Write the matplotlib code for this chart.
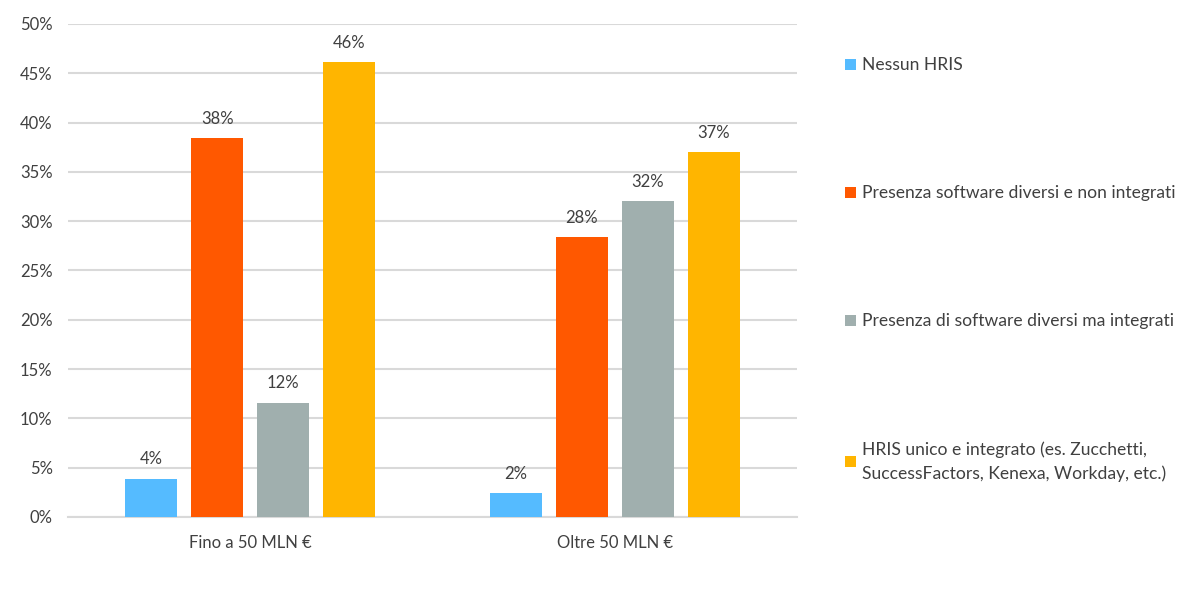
import numpy as np
import matplotlib
matplotlib.use("Agg")
import matplotlib.pyplot as plt
from matplotlib.ticker import FuncFormatter

# data (percent of companies)
groups = ["Fino a 50 MLN €", "Oltre 50 MLN €"]
series = [
    "Nessun HRIS",
    "Presenza software diversi e non integrati",
    "Presenza di software diversi ma integrati",
    "HRIS unico e integrato (es. Zucchetti,\nSuccessFactors, Kenexa, Workday, etc.)",
]
nessun = [3.9, 2.4]
non_integrati = [38.4, 28.4]
integrati = [11.6, 32.0]
unico = [46.1, 37.0]
labels = [["4%", "2%"], ["38%", "28%"], ["12%", "32%"], ["46%", "37%"]]
colors = ["#55BBFF", "#FF5800", "#A0AFAE", "#FFB500"]

TXT = "#404040"
plt.rcParams["font.family"] = ["Lato", "DejaVu Sans"]

fig = plt.figure(figsize=(12.01, 6.10), dpi=100)
ax = fig.add_axes([0.0566, 0.1525, 0.607, 0.8082])

x = np.arange(len(groups))
w = 0.1427
step = 0.181
handles = []
for i, vals in enumerate([nessun, non_integrati, integrati, unico]):
    off = (i - 1.5) * step
    b = ax.bar(x + off, vals, w, color=colors[i], zorder=3)
    handles.append(b)
    for rect, lab in zip(b, labels[i]):
        ax.annotate(lab, (rect.get_x() + rect.get_width() / 2, rect.get_height()),
                    xytext=(0, 8), textcoords="offset points",
                    ha="center", va="bottom", fontsize=12, color=TXT)

ax.set_xlim(-0.5, 1.5)
ax.set_ylim(0, 50)
ax.set_yticks(np.arange(0, 51, 5))
ax.yaxis.set_major_formatter(FuncFormatter(lambda v, _: f"{v:.0f}%"))
ax.set_xticks(x)
ax.set_xticklabels(groups)
ax.grid(axis="y", color="#D9D9D9", lw=1.5, zorder=0)
for s in ["top", "right", "left"]:
    ax.spines[s].set_visible(False)
ax.spines["bottom"].set_color("#D9D9D9")
ax.spines["bottom"].set_linewidth(1.5)
ax.tick_params(axis="both", length=0, labelsize=12, labelcolor=TXT)
ax.tick_params(axis="y", pad=11)
ax.tick_params(axis="x", pad=13)

leg = fig.legend(handles, series, loc="upper left", bbox_to_anchor=(0.6905, 0.932),
                 frameon=False, fontsize=12.6, labelcolor=TXT, handlelength=0.6,
                 handleheight=0.6, handletextpad=0.35, labelspacing=6.4)
leg.get_texts()[3].set_linespacing(1.55)

fig.savefig("out.png", dpi=100)
